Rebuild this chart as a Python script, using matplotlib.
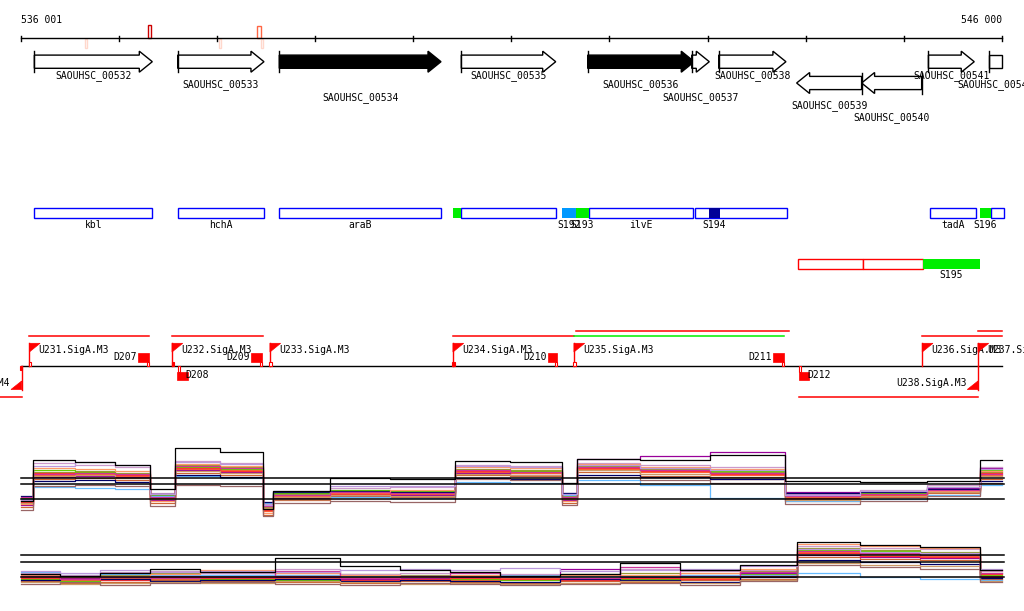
import matplotlib
matplotlib.use('Agg')
import matplotlib.pyplot as plt
from matplotlib.patches import Polygon, Rectangle

# ---------------- data ----------------
window_start, window_end = 536001, 546000
ruler_ticks = [536001, 537000, 538000, 539000, 540000, 541000,
               542000, 543000, 544000, 545000, 546000]
ruler_labels = ['536 001', '546 000']

gene_names = ['SAOUHSC_00532', 'SAOUHSC_00533', 'SAOUHSC_00534', 'SAOUHSC_00535',
              'SAOUHSC_00536', 'SAOUHSC_00537', 'SAOUHSC_00538', 'SAOUHSC_00539',
              'SAOUHSC_00540', 'SAOUHSC_00541', 'SAOUHSC_00542']
gene_start = [536140, 537601, 538636, 540491, 541779, 542839, 543114, 543908,
              544570, 545251, 545867]
gene_end = [537342, 538480, 540284, 541453, 542865, 543018, 543799, 544570,
            545182, 545718, 546100]
gene_strand = [1, 1, 1, 1, 1, 1, 1, -1, -1, 1, 1]
gene_filled = [False, False, True, False, True, False, False, False, False, False, False]
gene_label_row = [0, 1, 2, 0, 1, 2, 0, 3, 4, 0, 1]

feat_names = ['kbl', 'hchA', 'araB', '', '', 'S192', 'S193', 'ilvE', '', 'S194',
              'tadA', 'S196', '']
feat_start = [536140, 537601, 538636, 540409, 540492, 541517, 541659, 541788,
              542869, 543015, 545267, 545774, 545887]
feat_end = [537342, 538480, 540284, 540492, 541452, 541659, 541788, 542852,
            543807, 543127, 545736, 545887, 546020]
feat_kind = ['box', 'box', 'box', 'green', 'box', 'sky', 'green', 'box', 'box', 'navy',
             'box', 'green', 'box']

op_names = ['', '', 'S195']
op_start = [543920, 544584, 545195]
op_end = [544584, 545195, 545776]
op_kind = ['red', 'red', 'green']

tss_names = ['U230.SigA.M4', 'U231.SigA.M3', 'U232.SigA.M3', 'U233.SigA.M3',
             'U234.SigA.M3', 'U235.SigA.M3', 'U236.SigA.M3', 'U237.SigA.M3',
             'U238.SigA.M3']
tss_pos = [536011, 536089, 537543, 538541, 540406, 541639, 545188, 545756, 545756]
tss_strand = [-1, 1, 1, 1, 1, 1, 1, 1, -1]
tss_mark = ['filled', 'open', 'filled', 'open', 'filled', 'open', 'none', 'none', 'none']

term_names = ['D207', 'D208', 'D209', 'D210', 'D211', 'D212']
term_start = [537199, 537594, 538348, 541377, 543670, 543929]
term_end = [537308, 537703, 538460, 541469, 543779, 544037]
term_strand = [1, -1, 1, 1, 1, -1]

span_start = [536089, 537543, 540406, 541639, 541659, 545188, 545756, 535790, 543929]
span_end = [537304, 538467, 541639, 543779, 543830, 546000, 546000, 536011, 545760]
span_level = ['up', 'up', 'up', 'up', 'top', 'up', 'top', 'low', 'low']
span_color = ['red', 'red', 'red', 'green', 'red', 'red', 'red', 'red', 'red']

# expression panel 1 (upper)
up_edges = [536001, 536126, 536554, 536962, 537318, 537573, 538032, 538470, 538572,
            539153, 539764, 540427, 540987, 541518, 541670, 542312, 543025, 543790,
            544554, 545237, 545777, 546000]
up_refs = [4.67, 4.1, 2.57]
up_series = [
    [2.2, 5.0, 5.1, 4.9, 2.6, 5.6, 5.5, 1.4, 2.9, 3.2, 3.1, 5.3, 5.2, 2.6, 5.6, 5.3, 5.0, 2.8, 3.1, 3.5, 5.0],
    [1.8, 4.6, 4.7, 4.5, 2.2, 5.2, 5.0, 1.0, 2.5, 2.9, 2.8, 5.0, 4.9, 2.2, 5.3, 4.9, 4.6, 2.4, 2.8, 3.2, 4.6],
    [2.5, 5.3, 5.4, 5.2, 2.9, 6.0, 5.8, 1.8, 3.1, 3.4, 3.3, 5.6, 5.5, 2.9, 5.9, 5.6, 5.3, 2.9, 3.3, 3.8, 5.3],
    [2.7, 5.5, 5.3, 5.1, 3.0, 5.8, 5.6, 2.0, 3.2, 3.5, 3.4, 5.5, 5.4, 3.0, 5.8, 5.5, 5.4, 3.0, 3.2, 3.6, 5.5],
    [2.0, 4.8, 4.9, 4.8, 2.5, 5.5, 5.3, 1.6, 2.7, 3.0, 3.0, 5.2, 5.0, 2.5, 6.6, 6.9, 7.3, 3.3, 3.4, 3.7, 5.7],
    [2.6, 3.8, 3.7, 3.6, 2.9, 4.9, 4.7, 2.2, 2.6, 2.8, 2.7, 4.3, 4.2, 3.0, 4.5, 4.0, 2.7, 2.4, 2.6, 3.0, 4.0],
    [2.4, 6.2, 6.0, 5.8, 3.2, 6.4, 6.2, 2.1, 3.0, 3.7, 3.8, 6.0, 5.9, 3.2, 6.2, 6.0, 5.8, 3.1, 3.5, 4.0, 5.8],
    [2.3, 5.2, 5.2, 5.0, 2.7, 5.7, 5.4, 1.5, 2.8, 3.1, 3.2, 5.4, 5.3, 2.7, 5.7, 5.4, 5.1, 2.7, 3.0, 3.4, 5.2],
    [2.9, 4.4, 4.5, 4.3, 3.1, 5.0, 4.8, 2.3, 3.3, 3.4, 3.3, 4.7, 4.6, 3.2, 5.0, 4.8, 4.6, 3.2, 3.3, 3.6, 4.4],
    [2.1, 5.7, 5.6, 5.4, 2.4, 6.1, 5.9, 1.2, 2.6, 3.3, 3.5, 5.8, 5.7, 2.4, 6.1, 5.8, 5.6, 2.6, 2.9, 3.4, 5.4],
    [2.2, 4.9, 5.0, 4.7, 2.6, 5.4, 5.2, 1.7, 2.8, 3.0, 2.9, 5.1, 5.0, 2.6, 5.5, 5.1, 4.8, 2.5, 2.9, 3.3, 4.9],
    [2.8, 5.1, 5.2, 5.1, 2.8, 5.9, 5.7, 1.9, 3.0, 3.3, 3.2, 5.5, 5.3, 2.8, 5.8, 5.5, 5.2, 2.9, 3.1, 3.5, 5.1],
    [1.5, 3.9, 4.0, 3.9, 1.9, 4.0, 3.9, 0.9, 2.2, 2.4, 2.3, 4.6, 4.5, 2.0, 4.8, 4.5, 4.2, 2.1, 2.4, 2.9, 4.2],
    [2.5, 5.9, 6.3, 6.0, 3.1, 6.3, 6.1, 2.0, 3.4, 3.9, 3.9, 5.9, 5.8, 3.1, 6.0, 5.7, 5.5, 3.0, 3.4, 3.8, 5.6],
]
up_black = [2.4, 6.5, 6.3, 6.0, 3.6, 7.7, 7.3, 1.6, 3.4, 4.7, 4.6, 6.4, 6.3, 4.2, 6.6, 6.5, 7.0, 4.4, 4.3, 4.4, 6.5]

# expression panel 2 (lower)
lo_edges = [536001, 536401, 536809, 537318, 537828, 538592, 539254, 539866, 540376,
            540885, 541497, 542109, 542720, 543331, 543912, 544554, 545165, 545777, 546000]
lo_refs = [3.97, 3.27, 1.77]
lo_series = [
    [1.8, 1.5, 1.7, 1.6, 1.9, 1.7, 1.8, 1.6, 1.5, 1.7, 1.6, 1.8, 1.7, 2.0, 4.3, 4.1, 3.9, 1.9],
    [1.4, 1.2, 1.3, 1.5, 1.4, 1.3, 1.2, 1.4, 1.3, 1.2, 1.4, 1.3, 1.5, 1.6, 3.8, 3.6, 3.5, 1.6],
    [2.1, 1.9, 2.0, 2.2, 2.3, 2.0, 2.1, 2.0, 1.9, 2.0, 2.1, 2.2, 2.0, 2.4, 4.7, 4.5, 4.3, 2.2],
    [1.6, 1.4, 1.8, 1.7, 1.6, 1.5, 1.7, 1.8, 1.6, 1.5, 1.7, 1.6, 1.8, 2.1, 4.5, 4.4, 4.2, 2.0],
    [1.9, 1.7, 1.6, 1.9, 2.0, 1.8, 1.6, 1.7, 1.8, 1.9, 2.6, 1.8, 1.9, 2.2, 4.0, 3.8, 3.7, 1.8],
    [2.3, 2.0, 2.1, 2.0, 2.0, 2.0, 1.9, 1.9, 2.0, 2.0, 1.9, 1.9, 2.0, 2.0, 2.2, 1.8, 1.6, 1.5],
    [2.2, 2.0, 2.3, 2.4, 2.2, 2.6, 2.1, 2.2, 2.3, 2.1, 2.0, 2.6, 2.4, 2.5, 4.9, 4.7, 4.6, 2.4],
    [1.7, 1.6, 1.5, 1.8, 1.7, 1.9, 1.5, 1.6, 1.7, 1.6, 1.5, 1.7, 1.6, 1.9, 4.2, 3.9, 3.8, 2.1],
    [1.5, 1.8, 1.6, 1.4, 1.5, 1.6, 1.4, 1.5, 1.4, 1.3, 1.6, 1.5, 1.3, 1.8, 3.5, 3.3, 3.1, 1.7],
    [2.0, 1.8, 1.9, 2.1, 2.5, 2.2, 2.0, 1.8, 2.0, 1.9, 2.0, 2.0, 2.2, 2.6, 5.1, 4.9, 4.7, 2.5],
    [1.3, 1.1, 1.2, 1.3, 1.2, 1.4, 1.3, 1.1, 1.2, 1.1, 1.2, 1.4, 1.2, 1.5, 3.2, 3.0, 2.9, 1.4],
    [1.9, 1.6, 1.8, 1.7, 1.8, 2.4, 1.7, 1.9, 2.2, 1.8, 1.7, 2.8, 1.9, 2.3, 4.4, 4.2, 4.0, 2.2],
    [1.1, 1.3, 1.0, 1.2, 1.3, 1.1, 1.0, 1.2, 1.1, 1.0, 1.1, 1.2, 1.0, 1.4, 3.0, 2.8, 2.6, 1.3],
    [2.4, 2.2, 2.5, 2.3, 2.4, 2.3, 2.5, 2.6, 2.5, 2.7, 2.4, 2.5, 2.6, 2.9, 4.6, 4.3, 4.2, 2.6],
]
lo_black = [2.1, 1.9, 2.2, 2.6, 2.3, 3.7, 2.9, 2.5, 2.3, 1.9, 2.1, 3.2, 2.5, 3.0, 5.3, 5.0, 4.8, 2.5]

series_colors = ['#ff6633', '#cc6633', '#999933', '#66cc00', '#990099', '#66bbff',
                 '#cc99cc', '#ff3333', '#000066', '#ff9966', '#cc9966', '#cc3399',
                 '#996666', '#bb99dd']

# ---------------- drawing ----------------
W, H = 1024, 611
fig = plt.figure(figsize=(W / 100, H / 100), dpi=100)
ax = fig.add_axes([0, 0, 1, 1])
XL = (535790, 546225)
ax.set_xlim(*XL)
ax.set_ylim(H, 0)
ax.axis('off')
mono = dict(family='DejaVu Sans Mono', fontsize=7, color='black')
PX = (XL[1] - XL[0]) / W  # bp per pixel

# ruler
ax.plot([window_start, window_end], [38, 38], color='black', lw=1)
for t in ruler_ticks:
    ax.plot([t, t], [35.5, 40.5], color='black', lw=1)
ax.text(window_start, 20, ruler_labels[0], ha='left', va='center', **mono)
ax.text(window_end, 20, ruler_labels[1], ha='right', va='center', **mono)
ax.add_patch(Rectangle((537303, 25), 2.5 * PX, 13, fill=False, ec='#cc0000', lw=1))
ax.add_patch(Rectangle((538412, 26), 3.5 * PX, 12, fill=False, ec='#ff6644', lw=1))
for p in [536655, 538020, 538450]:
    ax.add_patch(Rectangle((p, 38.5), 1.8 * PX, 9.5, fill=False, ec='#ffd8cc', lw=1))

# genes
hl = 13 * PX
label_rows = [76, 85, 97.5, 106, 118]
for name, s, e, st, fl, row in zip(gene_names, gene_start, gene_end, gene_strand,
                                   gene_filled, gene_label_row):
    yc = 61.7 if st > 0 else 83.0
    bh, hh = 6.6, 10.5
    fc = 'black' if fl else 'white'
    if e > window_end:
        e2 = window_end
        pts = [(s, yc - bh), (e2, yc - bh), (e2, yc + bh), (s, yc + bh)]
        bar = s
    elif st > 0:
        pts = [(s, yc - bh), (e - hl, yc - bh), (e - hl, yc - hh), (e, yc),
               (e - hl, yc + hh), (e - hl, yc + bh), (s, yc + bh)]
        bar = s
    else:
        pts = [(e, yc - bh), (s + hl, yc - bh), (s + hl, yc - hh), (s, yc),
               (s + hl, yc + hh), (s + hl, yc + bh), (e, yc + bh)]
        bar = e
    ax.add_patch(Polygon(pts, closed=True, fc=fc, ec='black', lw=1, zorder=3))
    ax.plot([bar, bar], [yc - hh, yc + hh], color='black', lw=1, zorder=4)
    cx = (s + min(e, window_end)) / 2
    ax.text(cx, label_rows[row], name, ha='center', va='center', zorder=5, **mono)

# feature track
kind_style = {'box': dict(fc='white', ec='#0000ff'),
              'green': dict(fc='#00ee00', ec='none'),
              'sky': dict(fc='#0099ff', ec='none'),
              'navy': dict(fc='#000099', ec='none')}
for name, s, e, k in zip(feat_names, feat_start, feat_end, feat_kind):
    ax.add_patch(Rectangle((s, 207.5), e - s, 10, lw=1, zorder=3 if k == 'box' else 4,
                           **kind_style[k]))
    if name:
        ax.text((s + e) / 2, 225, name, ha='center', va='center', **mono)

op_style = {'red': dict(fc='white', ec='#ff0000'), 'green': dict(fc='#00ee00', ec='none')}
for name, s, e, k in zip(op_names, op_start, op_end, op_kind):
    ax.add_patch(Rectangle((s, 258.5), e - s, 10, lw=1, **op_style[k]))
    if name:
        ax.text((s + e) / 2, 275, name, ha='center', va='center', **mono)

# transcription track
ax.plot([window_start, window_end], [366, 366], color='black', lw=1, zorder=2)
lvl = {'up': 336, 'top': 331.3, 'low': 397.3}
cmap = {'red': '#ff0000', 'green': '#00ee00'}
for s, e, l, c in zip(span_start, span_end, span_level, span_color):
    ax.plot([s, e], [lvl[l], lvl[l]], color=cmap[c], lw=1.1)

RED = '#ff0000'
fw = 10.7 * PX
for name, p, st, mk in zip(tss_names, tss_pos, tss_strand, tss_mark):
    if st > 0:
        ax.plot([p, p], [366, 343.3], color=RED, lw=1, zorder=3)
        ax.add_patch(Polygon([(p, 343.3), (p + fw, 343.3), (p, 352)], closed=True,
                             fc=RED, ec=RED, lw=0.5, zorder=3))
        ax.text(p + 9 * PX, 350, name, ha='left', va='center', **mono)
        if mk != 'none':
            ax.add_patch(Rectangle((p - 0.5 * PX, 362), 2.3 * PX, 4,
                                   fc=RED if mk == 'filled' else 'white', ec=RED, lw=0.8, zorder=4))
    else:
        ax.plot([p, p], [366, 389.5], color=RED, lw=1, zorder=3)
        ax.add_patch(Polygon([(p, 389.5), (p - fw, 389.5), (p, 381)], closed=True,
                             fc=RED, ec=RED, lw=0.5, zorder=3))
        ax.text(p - fw - 1 * PX, 383.5, name, ha='right', va='center', **mono)
        if mk != 'none':
            ax.add_patch(Rectangle((p - 1.5 * PX, 366), 2.3 * PX, 4,
                                   fc=RED if mk == 'filled' else 'white', ec=RED, lw=0.8, zorder=4))

for name, s, e, st in zip(term_names, term_start, term_end, term_strand):
    if st > 0:
        ax.add_patch(Rectangle((s, 353.3), e - s, 8.4, fc=RED, ec=RED, lw=0.5, zorder=3))
        ax.add_patch(Rectangle((e - 2 * PX, 361.7), 2.2 * PX, 4.3, fc='white', ec=RED,
                               lw=0.8, zorder=4))
        ax.text(s - 1 * PX, 357.5, name, ha='right', va='center', **mono)
    else:
        ax.add_patch(Rectangle((s, 371.5), e - s, 8.2, fc=RED, ec=RED, lw=0.5, zorder=3))
        ax.add_patch(Rectangle((s + 0.5 * PX, 366), 2.2 * PX, 5.5, fc='white', ec=RED,
                               lw=0.8, zorder=4))
        ax.text(e - 2 * PX, 375.5, name, ha='left', va='center', **mono)

# expression panels
def panel(rect_top, rect_h, ymax, edges, series, black, refs):
    a = fig.add_axes([0, 1 - (rect_top + rect_h) / H, 1, rect_h / H])
    a.set_xlim(*XL)
    a.set_ylim(0, ymax)
    a.axis('off')
    for vals, col in zip(series, series_colors):
        a.step(edges, vals + [vals[-1]], where='post', color=col, lw=0.9)
    a.step(edges, black + [black[-1]], where='post', color='black', lw=0.9)
    for r in refs:
        a.plot([window_start, 546024], [r, r], color='black', lw=1.1)
    return a

panel(440, 85, 8.5, up_edges, up_series, up_black, up_refs)
panel(530, 65, 6.5, lo_edges, lo_series, lo_black, lo_refs)

fig.savefig('out.png', dpi=100)
